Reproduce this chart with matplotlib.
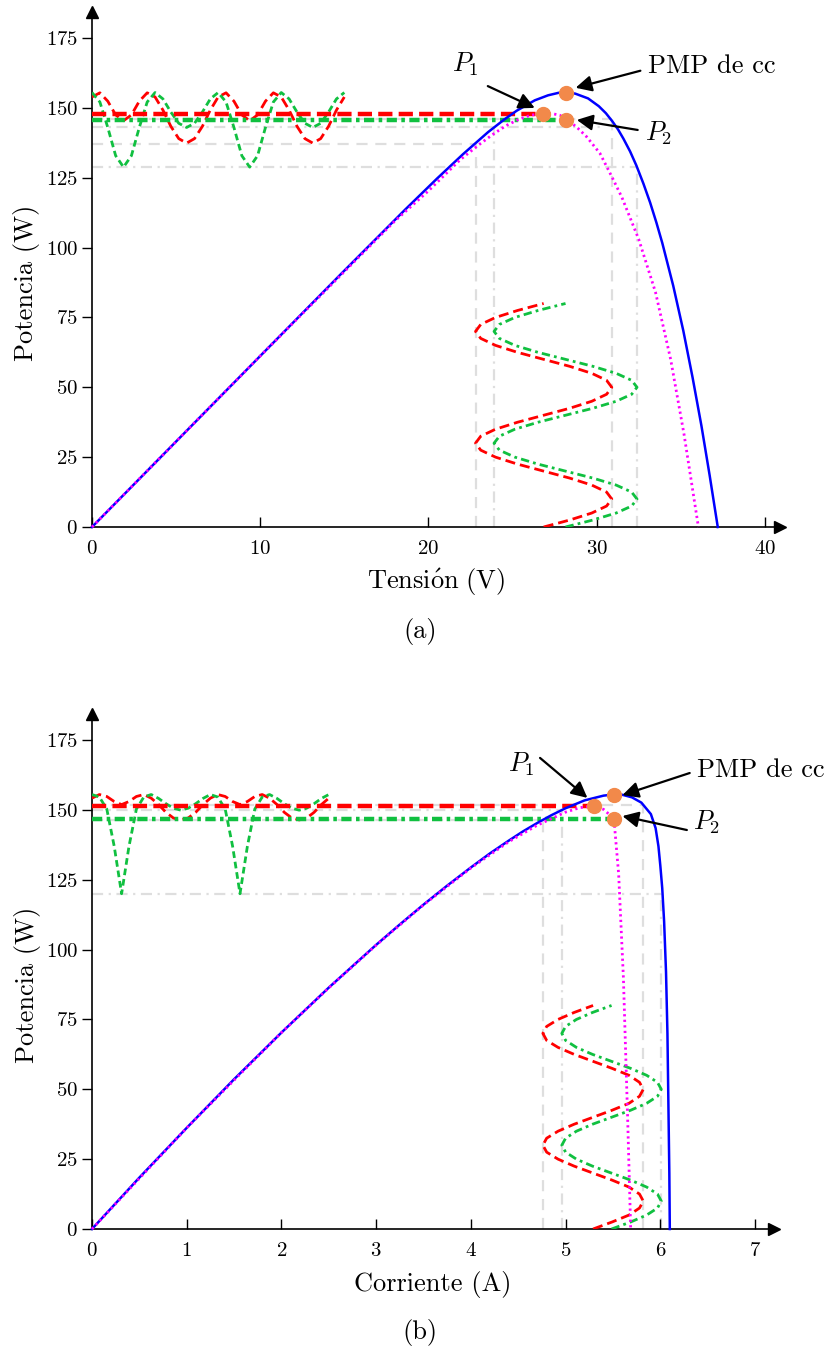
import matplotlib.pyplot as plt

plt.rcParams['font.family'] = 'cmr10'
plt.rcParams['mathtext.fontset'] = 'cm'
plt.rcParams['axes.formatter.use_mathtext'] = True

# ---------------- data: panel (a), power vs voltage ----------------
volt_pv = [0, 5, 10, 14.81, 18.60, 20.51, 22.05, 23.54, 24.52, 25.25, 26.32, 27.11, 27.74,
           28.27, 28.73, 29.49, 30.13, 30.55, 30.92, 31.27, 31.59, 31.99, 32.36, 32.78, 33.18,
           33.55, 33.90, 34.55, 35.15, 35.70, 36.23, 36.72, 37.2]
pow_pv_v = [0, 30.6, 61.2, 90.6, 113.5, 124.7, 133.4, 141.3, 145.9, 149.0, 152.7, 154.5, 155.4,
            155.5, 155.1, 153.4, 150.6, 148.1, 145.3, 142.3, 139.0, 134.4, 129.4, 122.9, 116.1,
            109.0, 101.7, 86.4, 70.3, 53.6, 36.2, 18.4, 0]

volt_avg = [0, 10, 18, 20, 21.9, 23.0, 23.85, 24.6, 25.4, 26.1, 26.8, 27.3, 27.8, 28.2,
            28.8, 29.4, 30.2, 30.9, 31.5, 32.5, 33.5, 34.4, 35.2, 36.05]
pow_avg_v = [0, 61.2, 109.5, 120.3, 131.5, 136.8, 140.6, 143.6, 146.0, 147.4, 148.0, 148.0, 147.4,
             145.9, 143.2, 139.7, 133.7, 125.4, 118, 103, 84, 60, 33, 0]

# ---------------- data: panel (b), power vs current ----------------
curr_pv = [0, 0.5, 1, 1.5, 2, 2.5, 3, 3.25, 3.5, 3.75, 4, 4.2, 4.4, 4.55, 4.7, 4.85, 5.0, 5.2,
           5.4, 5.5, 5.6, 5.7, 5.8, 5.9, 5.95, 5.98, 6.0, 6.02, 6.04, 6.06, 6.075, 6.085,
           6.095, 6.10]
pow_pv_i = [0, 18.4, 36.2, 53.6, 70.3, 86.4, 101.7, 109.0, 116.1, 122.9, 129.4, 134.4, 139.0,
            142.3, 145.3, 148.1, 150.6, 153.4, 155.1, 155.5, 155.4, 154.5, 152.6, 148.5, 143.5,
            137, 130, 122, 110, 92, 70, 45, 20, 0]

curr_avg = [0, 1, 2, 2.5, 3, 3.5, 4, 4.4, 4.7, 5.0, 5.15, 5.29, 5.4, 5.51, 5.56, 5.61, 5.654,
            5.687]
pow_avg_i = [0, 36.2, 70.3, 86.3, 101.6, 116.0, 129.2, 138.6, 144.5, 149.2, 150.8, 151.4, 150.2,
             146.9, 127, 90, 40.7, 0]

# ---------------- perturbation (time runs 0..80 in both panels) ----------------
osc_time = [0, 2.5, 5, 7.5, 10, 12.5, 15, 17.5, 20, 22.5, 25, 27.5, 30, 32.5, 35, 37.5,
            40, 42.5, 45, 47.5, 50, 52.5, 55, 57.5, 60, 62.5, 65, 67.5, 70, 72.5, 75, 77.5, 80]

volt_osc_p1 = [26.85, 28.40, 29.71, 30.59, 30.90, 30.59, 29.71, 28.40, 26.85, 25.30, 23.99, 23.11,
               22.80, 23.11, 23.99, 25.30, 26.85, 28.40, 29.71, 30.59, 30.90, 30.59, 29.71, 28.40,
               26.85, 25.30, 23.99, 23.11, 22.80, 23.11, 23.99, 25.30, 26.85]
pow_osc_p1_v = [153.9, 155.4, 152.4, 147.5, 145.4, 147.5, 152.4, 155.4, 153.9, 149.2, 143.4, 139.0,
                137.4, 139.0, 143.4, 149.2, 153.9, 155.4, 152.4, 147.5, 145.4, 147.5, 152.4, 155.4,
                153.9, 149.2, 143.4, 139.0, 137.4, 139.0, 143.4, 149.2, 153.9]
volt_osc_p2 = [28.15, 29.78, 31.16, 32.08, 32.40, 32.08, 31.16, 29.78, 28.15, 26.52, 25.14, 24.22,
               23.90, 24.22, 25.14, 26.52, 28.15, 29.78, 31.16, 32.08, 32.40, 32.08, 31.16, 29.78,
               28.15, 26.52, 25.14, 24.22, 23.90, 24.22, 25.14, 26.52, 28.15]
pow_osc_p2_v = [155.5, 152.1, 143.0, 132.9, 128.8, 132.9, 143.0, 152.1, 155.5, 153.2, 148.5, 144.5,
                143.0, 144.5, 148.5, 153.2, 155.5, 152.1, 143.0, 132.9, 128.8, 132.9, 143.0, 152.1,
                155.5, 153.2, 148.5, 144.5, 143.0, 144.5, 148.5, 153.2, 155.5]

curr_osc_p1 = [5.29, 5.49, 5.67, 5.78, 5.82, 5.78, 5.67, 5.49, 5.29, 5.09, 4.92, 4.80,
               4.76, 4.80, 4.92, 5.09, 5.29, 5.49, 5.67, 5.78, 5.82, 5.78, 5.67, 5.49,
               5.29, 5.09, 4.92, 4.80, 4.76, 4.80, 4.92, 5.09, 5.29]
pow_osc_p1_i = [154.2, 155.5, 154.8, 153.0, 151.9, 153.0, 154.8, 155.5, 154.2, 151.9, 149.1, 147.1,
                146.4, 147.1, 149.1, 151.9, 154.2, 155.5, 154.8, 153.0, 151.9, 153.0, 154.8, 155.5,
                154.2, 151.9, 149.1, 147.1, 146.4, 147.1, 149.1, 151.9, 154.2]
curr_osc_p2 = [5.485, 5.686, 5.856, 5.970, 6.010, 5.970, 5.856, 5.686, 5.485, 5.284, 5.114, 5.000,
               4.960, 5.000, 5.114, 5.284, 5.485, 5.686, 5.856, 5.970, 6.010, 5.970, 5.856, 5.686,
               5.485, 5.284, 5.114, 5.000, 4.960, 5.000, 5.114, 5.284, 5.485]
pow_osc_p2_i = [155.5, 154.6, 150.3, 137.0, 120.0, 137.0, 150.3, 154.6, 155.5, 154.1, 152.2, 150.6,
                149.9, 150.6, 152.2, 154.1, 155.5, 154.6, 150.3, 137.0, 120.0, 137.0, 150.3, 154.6,
                155.5, 154.1, 152.2, 150.6, 149.9, 150.6, 152.2, 154.1, 155.5]

# operating points: (x, P) for PMP de cc, P1, P2
pts_v = {'pmp': (28.2, 155.5), 'p1': (26.8, 147.9), 'p2': (28.2, 145.7)}
pts_i = {'pmp': (5.51, 155.5), 'p1': (5.30, 151.3), 'p2': (5.51, 146.9)}

# extremes of the perturbation: (x, P, end of the horizontal guide)
ext_p1_v = [(22.8, 137.2, 22.8), (30.9, 146.1, 30.9)]
ext_p2_v = [(23.9, 143.0, 30.3), (32.4, 128.8, 32.4)]
ext_p1_i = [(4.76, 146.4, 4.76), (5.82, 151.9, 5.82)]
ext_p2_i = [(4.96, 149.9, 4.96), (6.01, 120.0, 6.01)]

BLUE = '#0000FF'
RED = '#FF0000'
GREEN = '#10C040'
MAGENTA = '#FF00FF'
GRAY = '#DEDEDE'
DOT = '#F2894A'


def draw_panel(ax, x_pv, p_pv, x_avg, p_avg, x_osc1, p_osc1, x_osc2, p_osc2, t_top,
               pts, ext1, ext2, xmax, xticks, xlabel, ann):
    # light gray reference lines at the extremes of each perturbation
    for (x, p, xend) in ext1:
        ax.plot([0, xend], [p, p], color=GRAY, lw=1.6, dashes=(5, 3.5), zorder=1)
        ax.plot([x, x], [0, p], color=GRAY, lw=1.6, dashes=(5, 3.5), zorder=1)
    for (x, p, xend) in ext2:
        ax.plot([0, xend], [p, p], color=GRAY, lw=1.6, dashes=(5, 2.5, 1, 2.5), zorder=1)
        ax.plot([x, x], [0, p], color=GRAY, lw=1.6, dashes=(5, 2.5, 1, 2.5), zorder=1)

    # perturbation in time: power (top left) and operating variable (bottom)
    ax.plot([t * t_top for t in osc_time], p_osc1, color=RED, lw=2, dashes=(3.6, 1.8), zorder=3)
    ax.plot([t * t_top for t in osc_time], p_osc2, color=GREEN, lw=2, dashes=(2.4, 1.4), zorder=3)
    ax.plot(x_osc1, osc_time, color=RED, lw=2, dashes=(3.6, 1.8), zorder=3)
    ax.plot(x_osc2, osc_time, color=GREEN, lw=2, dashes=(3, 1.5, 1, 1.5), zorder=3)

    # average power levels
    ax.plot([0, pts['p1'][0]], [pts['p1'][1]] * 2, color=RED, lw=3.2, dashes=(3.2, 1.4), zorder=4)
    ax.plot([0, pts['p2'][0]], [pts['p2'][1]] * 2, color=GREEN, lw=3.2,
            dashes=(2.3, 1.0, 0.8, 1.0), zorder=4)

    ax.plot(x_pv, p_pv, color=BLUE, lw=1.8, zorder=5, clip_on=False)
    ax.plot(x_avg, p_avg, color=MAGENTA, lw=2, dashes=(0.8, 1.2), zorder=6, clip_on=False)

    for key in ('pmp', 'p1', 'p2'):
        ax.plot(*pts[key], 'o', color=DOT, ms=10, zorder=8)

    arrow = dict(arrowstyle='-|>', color='k', lw=1.6, mutation_scale=24, shrinkA=0, shrinkB=0)
    for text, tpos, tail, head in ann:
        ax.text(*tpos, text, fontsize=19, ha='left', va='center', zorder=9)
        ax.annotate('', xy=head, xytext=tail, arrowprops=arrow, zorder=9)

    ax.set_xlim(0, xmax)
    ax.set_ylim(0, 184.5)
    ax.set_xticks(xticks)
    ax.set_yticks([0, 25, 50, 75, 100, 125, 150, 175])
    ax.spines[['top', 'right']].set_visible(False)
    ax.spines[['left', 'bottom']].set_linewidth(1.2)
    ax.tick_params(axis='x', direction='in', length=7, width=1, pad=9, labelsize=15)
    ax.tick_params(axis='y', direction='out', length=7, width=1, pad=3, labelsize=15)
    ax.plot(1, 0, '>k', ms=9, transform=ax.get_yaxis_transform(), clip_on=False)
    ax.plot(0, 1, '^k', ms=9, transform=ax.get_xaxis_transform(), clip_on=False)

    ax.text(0.5, -0.107, xlabel, transform=ax.transAxes, ha='center', va='center', fontsize=19)
    ax.text(-65 / (ax.get_position().width * 827), 0.474, 'Potencia (W)', transform=ax.transAxes,
            ha='center', va='center', rotation=90, fontsize=19)


fig = plt.figure(figsize=(8.27, 13.47), dpi=100)
ax_a = fig.add_axes([92 / 827, 820 / 1347, 688 / 827, 515.5 / 1347])
ax_b = fig.add_axes([92 / 827, 118 / 1347, 682 / 827, 515.5 / 1347])

ann_a = [('PMP de cc', (33.04, 165.0), (32.6, 163.3), (28.75, 157.2)),
         ('$P_1$', (21.39, 165.7), (23.53, 157.8), (26.32, 150.0)),
         ('$P_2$', (32.86, 141.0), (32.44, 142.1), (28.82, 145.7))]
ann_b = [('PMP de cc', (6.39, 164.3), (6.31, 163.2), (5.60, 155.3)),
         ('$P_1$', (4.39, 166.4), (4.73, 168.6), (5.23, 154.3)),
         ('$P_2$', (6.35, 145.7), (6.28, 142.8), (5.60, 147.8))]

draw_panel(ax_a, volt_pv, pow_pv_v, volt_avg, pow_avg_v, volt_osc_p1, pow_osc_p1_v,
           volt_osc_p2, pow_osc_p2_v, 15 / 80, pts_v, ext_p1_v, ext_p2_v, 40.9,
           [0, 10, 20, 30, 40], r'$\mathrm{Tensi\acute{o}n\ (V)}$', ann_a)
draw_panel(ax_b, curr_pv, pow_pv_i, curr_avg, pow_avg_i, curr_osc_p1, pow_osc_p1_i,
           curr_osc_p2, pow_osc_p2_i, 2.5 / 80, pts_i, ext_p1_i, ext_p2_i, 7.2,
           [0, 1, 2, 3, 4, 5, 6, 7], 'Corriente (A)', ann_b)

fig.text(0.508, 1 - 631 / 1347, '(a)', ha='center', va='center', fontsize=19)
fig.text(0.508, 1 - 1333 / 1347, '(b)', ha='center', va='center', fontsize=19)

fig.savefig('out.png', dpi=100)
